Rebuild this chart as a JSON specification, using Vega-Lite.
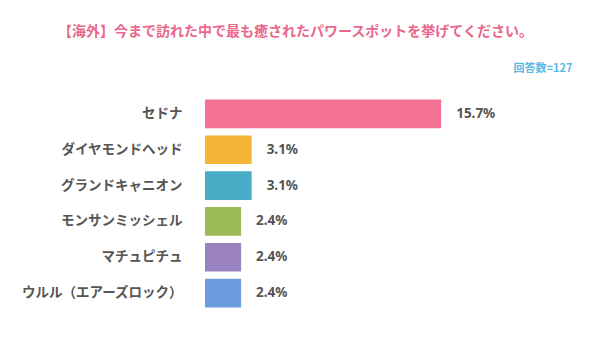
{
  "$schema": "https://vega.github.io/schema/vega-lite/v6.json",
  "autosize": "none",
  "width": 355,
  "height": 215,
  "padding": {"left": 205, "top": 96, "right": 30, "bottom": 41},
  "background": "white",
  "config": {"view": {"stroke": null}, "font": "Noto Sans CJK JP"},
  "title": {
    "text": "【海外】今まで訪れた中で最も癒されたパワースポットを挙げてください。",
    "color": "#E8688C",
    "fontSize": 14,
    "fontWeight": "bold",
    "font": "Noto Sans CJK JP",
    "anchor": "middle",
    "frame": "group",
    "dx": -87,
    "offset": 23
  },
  "data": {
    "values": [
      {"name": "セドナ", "pct": 15.7, "label": "15.7%"},
      {"name": "ダイヤモンドヘッド", "pct": 3.1, "label": "3.1%"},
      {"name": "グランドキャニオン", "pct": 3.1, "label": "3.1%"},
      {"name": "モンサンミッシェル", "pct": 2.4, "label": "2.4%"},
      {"name": "マチュピチュ", "pct": 2.4, "label": "2.4%"},
      {"name": "ウルル（エアーズロック）", "pct": 2.4, "label": "2.4%"}
    ]
  },
  "encoding": {
    "y": {
      "field": "name",
      "type": "nominal",
      "sort": null,
      "scale": {"paddingInner": 0.2, "paddingOuter": 0.1},
      "axis": {
        "title": null,
        "ticks": false,
        "domain": false,
        "labelPadding": 23,
        "labelFontSize": 13.5,
        "labelFontWeight": "bold",
        "labelColor": "#555555",
        "labelFont": "Noto Sans CJK JP"
      }
    },
    "x": {
      "field": "pct",
      "type": "quantitative",
      "scale": {"domain": [0, 23.6], "nice": false},
      "axis": {
        "orient": "top",
        "labels": false,
        "ticks": false,
        "domain": false,
        "grid": false,
        "title": "回答数=127",
        "titleColor": "#5BB8E0",
        "titleFontSize": 11,
        "titleFont": "Noto Sans CJK JP",
        "titleFontWeight": "bold",
        "titleAlign": "right",
        "titleAnchor": "end",
        "titleX": 367,
        "titleY": -28,
        "titleBaseline": "middle"
      }
    }
  },
  "layer": [
    {
      "mark": {"type": "bar"},
      "encoding": {
        "color": {
          "field": "name",
          "type": "nominal",
          "sort": null,
          "scale": {
            "domain": ["セドナ", "ダイヤモンドヘッド", "グランドキャニオン", "モンサンミッシェル", "マチュピチュ", "ウルル（エアーズロック）"],
            "range": ["#F47295", "#F6B537", "#47ADC7", "#9CBC5A", "#9A82C0", "#6B9DDE"]
          },
          "legend": null
        }
      }
    },
    {
      "mark": {"type": "text", "align": "left", "dx": 15, "fontSize": 13.5, "fontWeight": "bold", "color": "#555555", "font": "Noto Sans"},
      "encoding": {"text": {"field": "label"}}
    }
  ]
}
